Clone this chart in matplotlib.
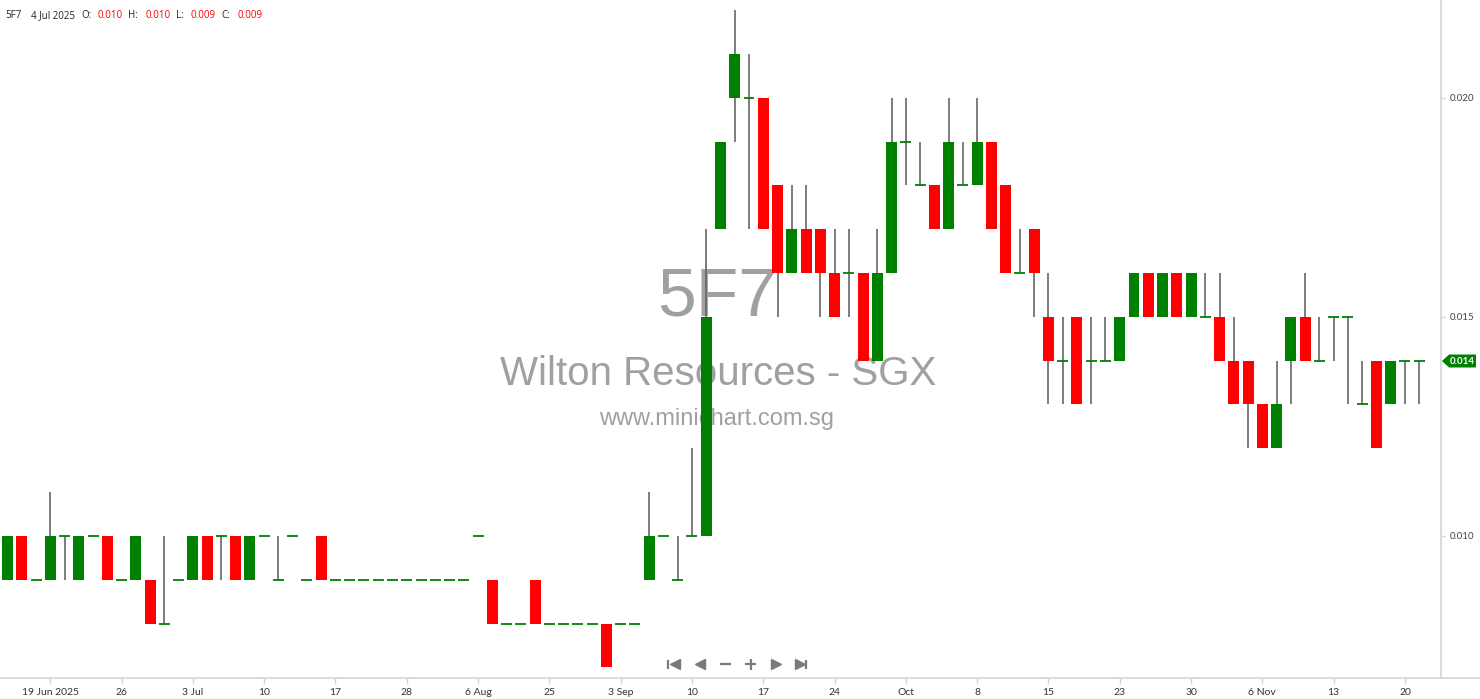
import matplotlib
matplotlib.use("Agg")
import matplotlib.pyplot as plt
from matplotlib.patches import Polygon
from matplotlib.lines import Line2D

# ---------------- data (prices in thousandths of a dollar) ----------------
opens_k = [9, 10, 9, 9, 10, 9, 10, 10, 9, 9,
           9, 8, 9, 9, 10, 10, 10, 9, 10, 9,
           10, 9, 10, 9, 9, 9, 9, 9, 9, 9,
           9, 9, 9, 10, 9, 8, 8, 9, 8, 8,
           8, 8, 8, 8, 8, 9, 10, 9, 10, 10,
           17, 20, 20, 20, 18, 16, 17, 17, 16, 16,
           16, 14, 16, 19, 18, 18, 17, 18, 18, 19,
           18, 16, 17, 15, 14, 15, 14, 14, 14, 15,
           16, 15, 16, 15, 15, 15, 14, 14, 13, 12,
           14, 15, 14, 15, 15, 13, 14, 13, 14, 14]
highs_k = [10, 10, 9, 11, 10, 10, 10, 10, 9, 10,
           9, 10, 9, 10, 10, 10, 10, 10, 10, 10,
           10, 9, 10, 9, 9, 9, 9, 9, 9, 9,
           9, 9, 9, 10, 9, 8, 8, 9, 8, 8,
           8, 8, 8, 8, 8, 11, 10, 10, 12, 17,
           19, 22, 21, 20, 18, 18, 18, 17, 17, 17,
           16, 17, 20, 20, 19, 18, 20, 19, 20, 19,
           18, 17, 17, 16, 15, 15, 15, 15, 15, 16,
           16, 16, 16, 16, 16, 16, 15, 14, 13, 14,
           15, 16, 15, 15, 15, 14, 14, 14, 14, 14]
lows_k = [9, 9, 9, 9, 9, 9, 10, 9, 9, 9,
          8, 8, 9, 9, 9, 9, 9, 9, 10, 9,
          10, 9, 9, 9, 9, 9, 9, 9, 9, 9,
          9, 9, 9, 10, 8, 8, 8, 8, 8, 8,
          8, 8, 7, 8, 8, 9, 10, 9, 10, 10,
          17, 19, 17, 17, 15, 16, 16, 15, 15, 15,
          14, 14, 16, 18, 18, 17, 17, 18, 18, 17,
          16, 16, 15, 13, 13, 13, 13, 14, 14, 15,
          15, 15, 15, 15, 15, 14, 13, 12, 12, 12,
          13, 14, 14, 14, 13, 13, 12, 13, 13, 13]
closes_k = [10, 9, 9, 10, 10, 10, 10, 9, 9, 10,
            8, 8, 9, 10, 9, 10, 9, 10, 10, 9,
            10, 9, 9, 9, 9, 9, 9, 9, 9, 9,
            9, 9, 9, 10, 8, 8, 8, 8, 8, 8,
            8, 8, 7, 8, 8, 10, 10, 9, 10, 15,
            19, 21, 20, 17, 16, 17, 16, 16, 15, 16,
            14, 16, 19, 19, 18, 17, 19, 18, 19, 17,
            16, 16, 16, 14, 14, 13, 14, 14, 15, 16,
            15, 16, 15, 16, 15, 14, 13, 13, 12, 13,
            15, 14, 14, 15, 15, 13, 12, 14, 14, 14]

opens = [v / 1000 for v in opens_k]
highs = [v / 1000 for v in highs_k]
lows = [v / 1000 for v in lows_k]
closes = [v / 1000 for v in closes_k]

tick_positions = list(range(3, 100, 5))
tick_labels = ["19 Jun 2025", "26", "3 Jul", "10", "17", "28", "6 Aug", "25",
               "3 Sep", "10", "17", "24", "Oct", "8", "15", "23", "30",
               "6 Nov", "13", "20"]
y_ticks = [0.010, 0.015, 0.020]
last_price = 0.014

# ---------------- layout ----------------
W, H, DPI = 1480, 699, 100
fig = plt.figure(figsize=(W / DPI, H / DPI), dpi=DPI)
fig.patch.set_facecolor("white")

def fx(px):
    return px / W

def fy(py):
    return 1 - py / H

ax_right_px = 1441
ax_bottom_px = 678
ax = fig.add_axes([0, fy(ax_bottom_px), fx(ax_right_px), 1 - fy(ax_bottom_px)])
ax.set_facecolor("white")

GREEN = "#008000"
RED = "#ff0000"
WICK = "#666666"
FONT = "Lato"

n = len(opens)
xs = list(range(n))
body_w = 0.77

# wicks
ax.vlines(xs, lows, highs, color=WICK, lw=1.2, zorder=2)
# bodies
for i in xs:
    o, c = opens[i], closes[i]
    if c > o:
        ax.bar(i, c - o, bottom=o, width=body_w, color=GREEN, zorder=3, linewidth=0)
    elif c < o:
        ax.bar(i, o - c, bottom=c, width=body_w, color=RED, zorder=3, linewidth=0)
    else:
        ax.hlines(o, i - body_w / 2, i + body_w / 2, color=GREEN, lw=1.3, zorder=3)

ax.set_xlim(-0.526, 100.53)
ax.set_ylim(0.006758, 0.02223)

# axes styling
for s in ["top", "left"]:
    ax.spines[s].set_visible(False)
ax.spines["bottom"].set_color("#d4d4d4")
ax.spines["right"].set_color("#d4d4d4")
ax.spines["bottom"].set_linewidth(1.2)
ax.spines["right"].set_linewidth(1.2)

ax.set_xticks(tick_positions)
ax.set_xticklabels(tick_labels, fontsize=7.5, color="#333333", family=FONT)
ax.tick_params(axis="x", direction="out", length=4, width=1, color="#d4d4d4", pad=3)

ax.yaxis.tick_right()
ax.set_yticks(y_ticks)
ax.set_yticklabels([f"{v:.3f}" for v in y_ticks], fontsize=7, color="#444444", family=FONT)
ax.tick_params(axis="y", direction="out", length=3, width=1, color="#d4d4d4", pad=3)

# bottom line extends to figure edge
fig.add_artist(Line2D([fx(ax_right_px), 1], [fy(ax_bottom_px), fy(ax_bottom_px)],
                      color="#d4d4d4", lw=1.2, transform=fig.transFigure))

# watermark (behind candles)
wm = "#a0a0a0"
ax.text(fx(717), fy(316), "5F7", transform=fig.transFigure, ha="center", va="baseline",
        fontsize=50, color=wm, family="Liberation Sans", zorder=1)
ax.text(fx(718), fy(385), "Wilton Resources - SGX", transform=fig.transFigure, ha="center",
        va="baseline", fontsize=29, color=wm, family="Liberation Sans", zorder=1)
ax.text(fx(717), fy(425), "www.minichart.com.sg", transform=fig.transFigure, ha="center",
        va="baseline", fontsize=17, color=wm, family="Liberation Sans", zorder=1)

# header
hdr_y = fy(16)
header = [(5, "5F7", "#222222"), (31, "4 Jul 2025", "#222222"), (81, "O:", "#222222"),
          (98, "0.010", RED), (128, "H:", "#222222"), (146, "0.010", RED),
          (176, "L:", "#222222"), (191, "0.009", RED), (221, "C:", "#222222"),
          (238, "0.009", RED)]
for px, txt, col in header:
    fig.text(fx(px), hdr_y, txt, ha="left", va="center", fontsize=7, color=col,
             family="Open Sans")

# last price tag
tag_y = 361
poly = Polygon([(fx(1442), fy(tag_y)), (fx(1449), fy(tag_y - 6.5)), (fx(1476), fy(tag_y - 6.5)),
                (fx(1476), fy(tag_y + 6.5)), (fx(1449), fy(tag_y + 6.5))],
               closed=True, facecolor=GREEN, edgecolor="none", transform=fig.transFigure)
fig.add_artist(poly)
fig.text(fx(1462), fy(tag_y), f"{last_price:.3f}", ha="center", va="center", fontsize=7,
         color="white", weight="bold", family=FONT)

# navigation buttons
nav_y = fy(664)
gray = "#7a7a7a"
def seg(x0, y0, x1, y1, lw=2):
    fig.add_artist(Line2D([fx(x0), fx(x1)], [fy(y0), fy(y1)], color=gray, lw=lw,
                          transform=fig.transFigure, solid_capstyle="butt"))
def tri(xc, kind):
    fig.add_artist(Line2D([fx(xc)], [nav_y], marker=kind, ms=7, color=gray, mec=gray,
                          transform=fig.transFigure, linestyle="none"))
seg(668, 659.5, 668, 668.5, lw=1.6)
tri(675, "<")
tri(700, "<")
seg(720, 664, 731, 664, lw=1.6)
seg(745, 664, 756, 664, lw=1.6)
seg(750.5, 658.5, 750.5, 669.5, lw=1.6)
tri(776, ">")
tri(800, ">")
seg(806, 659.5, 806, 668.5, lw=1.6)

fig.savefig("out.png", dpi=DPI)
